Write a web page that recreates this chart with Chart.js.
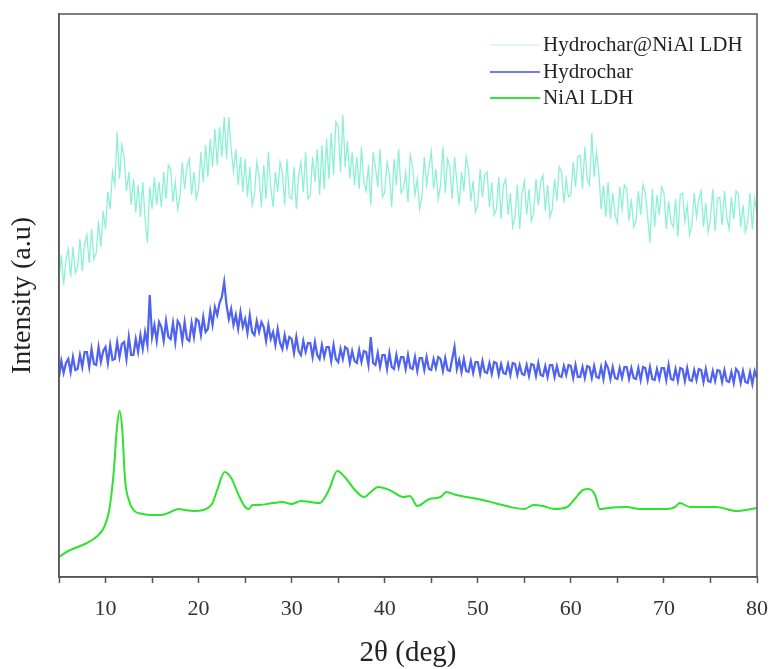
<!DOCTYPE html>
<html lang="en">
<head>
  <meta charset="UTF-8">
  <title>XRD patterns</title>
  <script src="https://cdn.jsdelivr.net/npm/chart.js"></script>
  <style>
    body { margin: 0; background: #fff; }
    .wrap { width: 771px; height: 669px; position: relative; }
  </style>
</head>
<body>
  <div class="wrap"><canvas id="xrdChart"></canvas></div>

  <script>
    // 2θ grid of the two noisy scans: 5° to 80° every 0.25°
    const scanAngles = [];
    for (let i = 0; i <= 300; i++) scanAngles.push(5 + i * 0.25);

    // Hydrochar@NiAl LDH (a.u., one row = four degrees)
    const compositeCounts = [
      296, 322, 292, 318,  328, 300, 330, 304,  310, 338, 306, 334,  342, 314, 348, 318,
      324, 356, 330, 366,  348, 385, 368, 405,  392, 445, 398, 432,  420, 386, 405, 372,
      398, 365, 392, 360,  395, 358, 334, 390,  368, 400, 372, 395,  370, 405, 378, 412,
      408, 375, 395, 368,  380, 415, 388, 410,  418, 382, 405, 378,  388, 425, 395, 432,
      400, 438, 410, 448,  412, 450, 420, 460,  418, 460, 428, 405,  428, 392, 420, 385,
      418, 380, 410, 372,  382, 415, 400, 370,  412, 378, 425, 390,  370, 405, 385, 415,
      405, 372, 418, 380,  378, 410, 368, 402,  415, 385, 425, 378,  382, 420, 395, 428,
      382, 432, 388, 438,  398, 444, 402, 455,  450, 405, 462, 410,  436, 398, 425, 392,
      420, 388, 430, 395,  386, 412, 372, 425,  410, 390, 428, 380,  385, 415, 402, 370,
      418, 392, 428, 384,  388, 405, 375, 422,  410, 382, 398, 368,  380, 420, 392, 410,
      426, 388, 408, 378,  392, 430, 384, 418,  410, 378, 420, 395,  372, 405, 386, 420,
      408, 376, 396, 365,  372, 408, 380, 402,  405, 370, 395, 362,  368, 400, 358, 392,
      398, 362, 384, 350,  360, 392, 348, 384,  396, 362, 388, 356,  364, 398, 372, 395,
      402, 366, 392, 360,  368, 398, 376, 410,  405, 374, 398, 380,  382, 415, 390, 420,
      422, 388, 430, 398,  392, 444, 400, 425,  405, 368, 392, 360,  395, 358, 384, 362,
      354, 390, 368, 392,  388, 356, 378, 350,  356, 386, 362, 392,  384, 360, 334, 388,
      350, 382, 362, 390,  384, 348, 376, 355,  350, 378, 340, 382,  384, 356, 372, 342,
      352, 384, 360, 378,  386, 350, 374, 345,  358, 388, 346, 378,  380, 352, 386, 360,
      348, 380, 358, 386,  382, 350, 372, 345,  355, 384, 348, 378,  364
    ];

    // Hydrochar (a.u., one row = four degrees)
    const hydrocharCounts = [
      200, 216, 204, 214,  218, 205, 220, 207,  208, 222, 210, 225,  225, 210, 228, 213,
      212, 230, 215, 226,  230, 214, 232, 217,  218, 235, 220, 233,  235, 218, 240, 222,
      222, 238, 225, 242,  228, 245, 232, 282,  240, 252, 236, 255,  250, 236, 256, 240,
      238, 254, 235, 256,  252, 236, 255, 238,  236, 254, 240, 258,  256, 242, 260, 245,
      248, 266, 252, 270,  262, 274, 280, 295,  272, 258, 268, 252,  262, 248, 265, 250,
      258, 244, 262, 245,  242, 256, 245, 255,  250, 236, 252, 238,  245, 232, 248, 234,
      228, 242, 230, 240,  238, 224, 240, 226,  222, 236, 225, 234,  234, 220, 235, 222,
      218, 232, 220, 230,  230, 216, 232, 218,  215, 228, 218, 230,  228, 214, 226, 216,
      214, 227, 215, 226,  225, 212, 240, 214,  212, 224, 210, 222,  222, 208, 224, 210,
      208, 222, 210, 220,  220, 208, 222, 209,  208, 220, 206, 219,  219, 207, 220, 208,
      207, 218, 209, 220,  218, 206, 219, 207,  206, 218, 230, 208,  217, 205, 218, 206,
      205, 216, 204, 215,  215, 203, 216, 205,  204, 214, 203, 215,  214, 202, 213, 204,
      203, 213, 202, 214,  213, 202, 212, 203,  202, 212, 201, 213,  212, 201, 214, 202,
      201, 211, 200, 212,  212, 200, 211, 201,  200, 211, 202, 212,  211, 199, 212, 200,
      200, 210, 199, 211,  210, 199, 211, 200,  199, 210, 198, 214,  209, 198, 210, 199,
      198, 209, 199, 210,  210, 198, 209, 199,  198, 209, 197, 210,  209, 197, 210, 198,
      197, 208, 198, 209,  209, 197, 212, 198,  197, 208, 196, 209,  208, 196, 209, 197,
      196, 207, 197, 208,  207, 195, 208, 196,  195, 206, 196, 207,  206, 195, 207, 196,
      195, 205, 194, 208,  205, 194, 206, 195,  194, 205, 193, 206,  199
    ];

    // NiAl LDH (smooth scan, read at its turning points)
    const ldhAngles = [
      5, 6, 7, 8, 9, 9.8, 10.4, 10.9, 11.2, 11.5, 11.8, 12.1, 12.5, 13, 14, 15, 16, 17, 17.8,
      18.5, 19.5, 20.5, 21.5, 22, 22.8, 23.5, 24.3, 25, 25.4, 25.8, 26.5, 28, 29, 30, 31, 32,
      33, 34, 34.9, 35.8, 36.8, 37.8, 38.5, 39.3, 40.5, 42, 42.7, 43.5, 44.8, 46, 46.6, 47.7,
      50, 51.8, 53.5, 55, 56, 57, 58.2, 59.6, 60.5, 61.3, 61.9, 62.6, 63.1, 64, 66, 67.4,
      70.3, 71.2, 71.7, 72.8, 75.6, 77.8, 80
    ];
    const ldhCounts = [
      20, 26, 30, 34, 40, 49, 67, 107, 147, 166, 147, 97, 77, 67, 63, 62, 62, 65, 68,
      67, 66, 67, 74, 87, 105, 99, 82, 70, 68, 72, 72, 74, 75, 73, 76, 75,
      74, 87, 106, 99, 87, 80, 85, 90, 87, 80, 81, 71, 78, 80, 85, 82,
      78, 74, 70, 68, 72, 71, 68, 70, 79, 87, 88, 82, 68, 69, 70, 68,
      68, 70, 74, 70, 70, 66, 69
    ];

    const seriesNames = ['Hydrochar@NiAl LDH', 'Hydrochar', 'NiAl LDH'];
    const xTicks = [10, 20, 30, 40, 50, 60, 70, 80];

    const toPoints = (xs, ys) => ys.map((y, i) => ({ x: xs[i], y: y }));

    // box around the plot + legend inside the top right corner
    const frameAndLegend = {
      id: 'frameAndLegend',
      afterDraw(chart) {
        const { ctx, chartArea: a } = chart;
        ctx.save();
        ctx.strokeStyle = '#555';
        ctx.lineWidth = 1.5;
        ctx.strokeRect(a.left, a.top, a.right - a.left, a.bottom - a.top);

        const rows = [45, 72, 98];
        const swatch = ['#e4f6f1', '#6f7cf2', '#3be03b'];
        ctx.font = '21px "Liberation Serif", serif';
        ctx.textBaseline = 'middle';
        ctx.fillStyle = '#222';
        seriesNames.forEach((name, i) => {
          ctx.strokeStyle = swatch[i];
          ctx.lineWidth = 2;
          ctx.beginPath();
          ctx.moveTo(490, rows[i]);
          ctx.lineTo(540, rows[i]);
          ctx.stroke();
          ctx.fillText(name, 543, rows[i]);
        });
        ctx.restore();
      }
    };

    const ctx = document.getElementById('xrdChart').getContext('2d');
    new Chart(ctx, {
      type: 'line',
      data: {
        datasets: [
          {
            label: seriesNames[0],
            data: toPoints(scanAngles, compositeCounts),
            borderColor: 'rgba(110, 238, 200, 0.8)',
            borderWidth: 1.3,
            pointRadius: 0,
            tension: 0
          },
          {
            label: seriesNames[1],
            data: toPoints(scanAngles, hydrocharCounts),
            borderColor: '#4f62f0',
            borderWidth: 2.2,
            pointRadius: 0,
            tension: 0
          },
          {
            label: seriesNames[2],
            data: toPoints(ldhAngles, ldhCounts),
            borderColor: '#2ee22e',
            borderWidth: 2,
            pointRadius: 0,
            cubicInterpolationMode: 'monotone'
          }
        ]
      },
      options: {
        responsive: true,
        maintainAspectRatio: false,
        animation: false,
        layout: { padding: { top: 14, right: 14, left: 0, bottom: 0 } },
        plugins: {
          legend: { display: false },
          tooltip: { enabled: false }
        },
        scales: {
          x: {
            type: 'linear',
            min: 5,
            max: 80,
            afterFit: scale => {
              scale.height = 92;
              scale.paddingLeft = 0;
              scale.paddingRight = 0;
            },
            afterBuildTicks: scale => {
              const t = [{ value: 5 }];
              xTicks.forEach(v => { t.push({ value: v - 5 }, { value: v }); });
              scale.ticks = t.filter((v, i, arr) => arr.findIndex(o => o.value === v.value) === i);
            },
            ticks: {
              autoSkip: false,
              maxRotation: 0,
              padding: 13,
              color: '#333',
              font: { family: '"Liberation Serif", serif', size: 22 },
              callback: v => (xTicks.includes(v) ? String(v) : '')
            },
            grid: {
              drawOnChartArea: false,
              tickLength: 6,
              tickColor: '#555',
              tickWidth: 1.5
            },
            border: { color: '#555', width: 1.5 },
            title: {
              display: true,
              text: '2θ (deg)',
              color: '#222',
              padding: { top: 0, bottom: 0 },
              font: { family: '"Liberation Serif", serif', size: 29, lineHeight: 1.05 }
            }
          },
          y: {
            min: 0,
            max: 563,
            afterFit: scale => { scale.width = 59; },
            ticks: { display: false },
            grid: { display: false },
            border: { color: '#555', width: 1.5 },
            title: {
              display: true,
              text: 'Intensity (a.u)',
              color: '#222',
              padding: { top: 8, bottom: 0 },
              font: { family: '"Liberation Serif", serif', size: 28, lineHeight: 1.05 }
            }
          }
        }
      },
      plugins: [frameAndLegend]
    });
  </script>
</body>
</html>
